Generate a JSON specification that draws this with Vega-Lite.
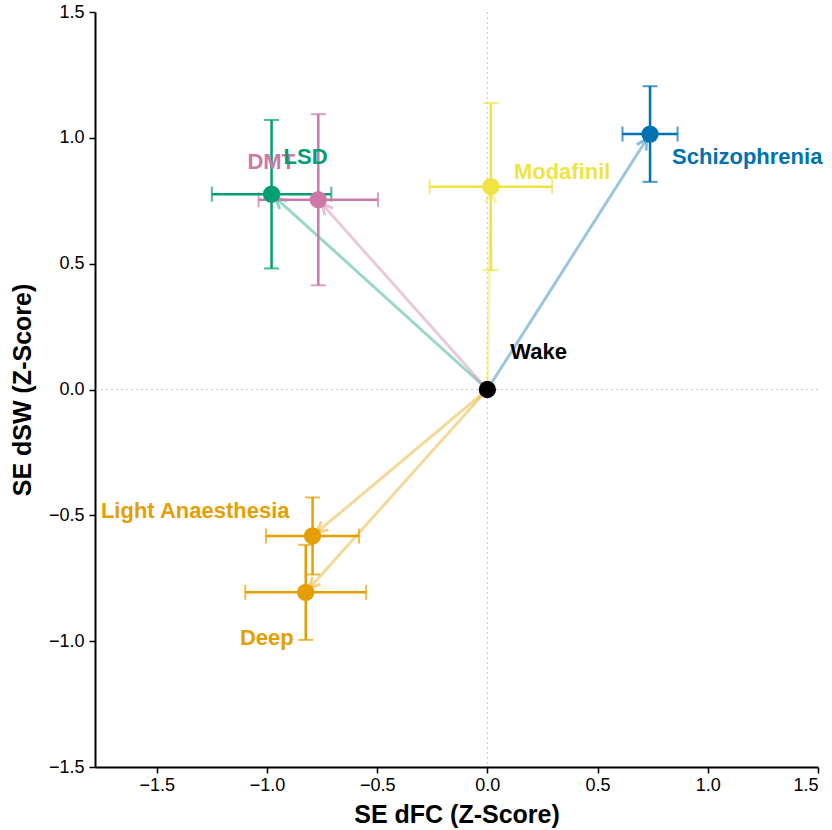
{
  "$schema": "https://vega.github.io/schema/vega-lite/v6.json",
  "width": 723,
  "height": 755,
  "autosize": {"type": "none"},
  "padding": {"left": 95, "top": 12, "right": 14, "bottom": 63},
  "background": "white",
  "config": {
    "view": {"stroke": null},
    "font": "Liberation Sans",
    "axis": {
      "grid": false,
      "domainColor": "black",
      "domainWidth": 2,
      "tickColor": "black",
      "tickWidth": 1.5,
      "tickSize": 6,
      "labelFont": "Liberation Sans",
      "labelFontSize": 18,
      "labelColor": "black",
      "titleFont": "Liberation Sans",
      "titleFontSize": 25,
      "titleFontWeight": "bold",
      "titleColor": "black"
    }
  },
  "datasets": {
    "states": [
      {"name": "Wake", "x": 0, "y": 0, "xerr": 0, "yerr": 0},
      {"name": "Schizophrenia", "x": 0.738, "y": 1.015, "xerr": 0.125, "yerr": 0.19},
      {"name": "Modafinil", "x": 0.016, "y": 0.806, "xerr": 0.278, "yerr": 0.332},
      {"name": "LSD", "x": -0.979, "y": 0.776, "xerr": 0.271, "yerr": 0.295},
      {"name": "DMT", "x": -0.767, "y": 0.754, "xerr": 0.271, "yerr": 0.34},
      {"name": "Light Anaesthesia", "x": -0.793, "y": -0.582, "xerr": 0.211, "yerr": 0.153},
      {"name": "Deep", "x": -0.824, "y": -0.806, "xerr": 0.274, "yerr": 0.189}
    ],
    "origin": [{"x": 0, "y": 0}]
  },
  "data": {"name": "states"},
  "encoding": {
    "x": {
      "field": "x", "type": "quantitative",
      "scale": {"domain": [-1.78, 1.5], "nice": false, "zero": false},
      "axis": {"values": [-1.5, -1, -0.5, 0, 0.5, 1, 1.5], "format": ".1f", "title": "SE dFC (Z-Score)", "labelPadding": 3, "titlePadding": 8}
    },
    "y": {
      "field": "y", "type": "quantitative",
      "scale": {"domain": [-1.5, 1.5], "nice": false, "zero": false},
      "axis": {"values": [-1.5, -1, -0.5, 0, 0.5, 1, 1.5], "format": ".1f", "title": "SE dSW (Z-Score)", "labelPadding": 5, "titlePadding": 13}
    },
    "color": {
      "field": "name", "type": "nominal", "legend": null,
      "scale": {
        "domain": ["Wake", "Schizophrenia", "Modafinil", "LSD", "DMT", "Light Anaesthesia", "Deep"],
        "range": ["#000000", "#0072B2", "#F0E442", "#009E73", "#CC79A7", "#E69F00", "#E69F00"]
      }
    }
  },
  "layer": [
    {
      "data": {"name": "origin"},
      "mark": {"type": "rule", "color": "#c8c8c8", "strokeWidth": 1, "strokeDash": [2, 3]},
      "encoding": {"x": {"field": "x", "type": "quantitative"}, "y": null, "color": null}
    },
    {
      "data": {"name": "origin"},
      "mark": {"type": "rule", "color": "#c8c8c8", "strokeWidth": 1, "strokeDash": [2, 3]},
      "encoding": {"y": {"field": "y", "type": "quantitative"}, "x": null, "color": null}
    },
    {
      "transform": [{"filter": "datum.name !== 'Wake'"}],
      "mark": {"type": "rule", "strokeWidth": 3, "opacity": 0.4},
      "encoding": {"x2": {"datum": 0}, "y2": {"datum": 0}}
    },
    {
      "transform": [
        {"filter": "datum.name !== 'Wake'"},
        {"calculate": "atan2(datum.x * 220.4, datum.y * 251.7) * 180 / PI", "as": "heading"}
      ],
      "mark": {"type": "point", "shape": "M-0.55,1.6L0,0.55L0.55,1.6", "filled": false, "strokeWidth": 3, "opacity": 0.45, "size": 400, "strokeJoin": "miter"},
      "encoding": {"angle": {"field": "heading", "type": "quantitative", "scale": null}}
    },
    {
      "transform": [{"filter": "datum.name !== 'Wake'"}],
      "mark": {"type": "errorbar", "ticks": {"size": 15, "thickness": 2}, "rule": {"strokeWidth": 2.5}},
      "encoding": {"xError": {"field": "xerr"}}
    },
    {
      "transform": [{"filter": "datum.name !== 'Wake'"}],
      "mark": {"type": "errorbar", "ticks": {"size": 15, "thickness": 2}, "rule": {"strokeWidth": 2.5}},
      "encoding": {"yError": {"field": "yerr"}}
    },
    {
      "mark": {"type": "circle", "size": 300, "opacity": 1}
    },
    {
      "transform": [{"filter": "datum.name === 'Schizophrenia'"}],
      "mark": {"type": "text", "align": "left", "baseline": "middle", "dx": 22, "dy": 23, "fontSize": 22, "fontWeight": "bold"},
      "encoding": {"text": {"field": "name"}}
    },
    {
      "transform": [{"filter": "datum.name === 'Modafinil'"}],
      "mark": {"type": "text", "align": "left", "baseline": "middle", "dx": 23, "dy": -15, "fontSize": 22, "fontWeight": "bold"},
      "encoding": {"text": {"field": "name"}}
    },
    {
      "transform": [{"filter": "datum.name === 'Wake'"}],
      "mark": {"type": "text", "align": "left", "baseline": "middle", "dx": 23, "dy": -38, "fontSize": 22, "fontWeight": "bold"},
      "encoding": {"text": {"field": "name"}}
    },
    {
      "transform": [{"filter": "datum.name === 'DMT'"}],
      "mark": {"type": "text", "align": "center", "baseline": "middle", "dx": -47, "dy": -38, "fontSize": 22, "fontWeight": "bold"},
      "encoding": {"text": {"field": "name"}}
    },
    {
      "transform": [{"filter": "datum.name === 'LSD'"}],
      "mark": {"type": "text", "align": "center", "baseline": "middle", "dx": 34, "dy": -37, "fontSize": 22, "fontWeight": "bold"},
      "encoding": {"text": {"field": "name"}}
    },
    {
      "transform": [{"filter": "datum.name === 'Light Anaesthesia'"}],
      "mark": {"type": "text", "align": "right", "baseline": "middle", "dx": -23, "dy": -25, "fontSize": 22, "fontWeight": "bold"},
      "encoding": {"text": {"field": "name"}}
    },
    {
      "transform": [{"filter": "datum.name === 'Deep'"}],
      "mark": {"type": "text", "align": "right", "baseline": "middle", "dx": -12, "dy": 46, "fontSize": 22, "fontWeight": "bold"},
      "encoding": {"text": {"field": "name"}}
    }
  ]
}
